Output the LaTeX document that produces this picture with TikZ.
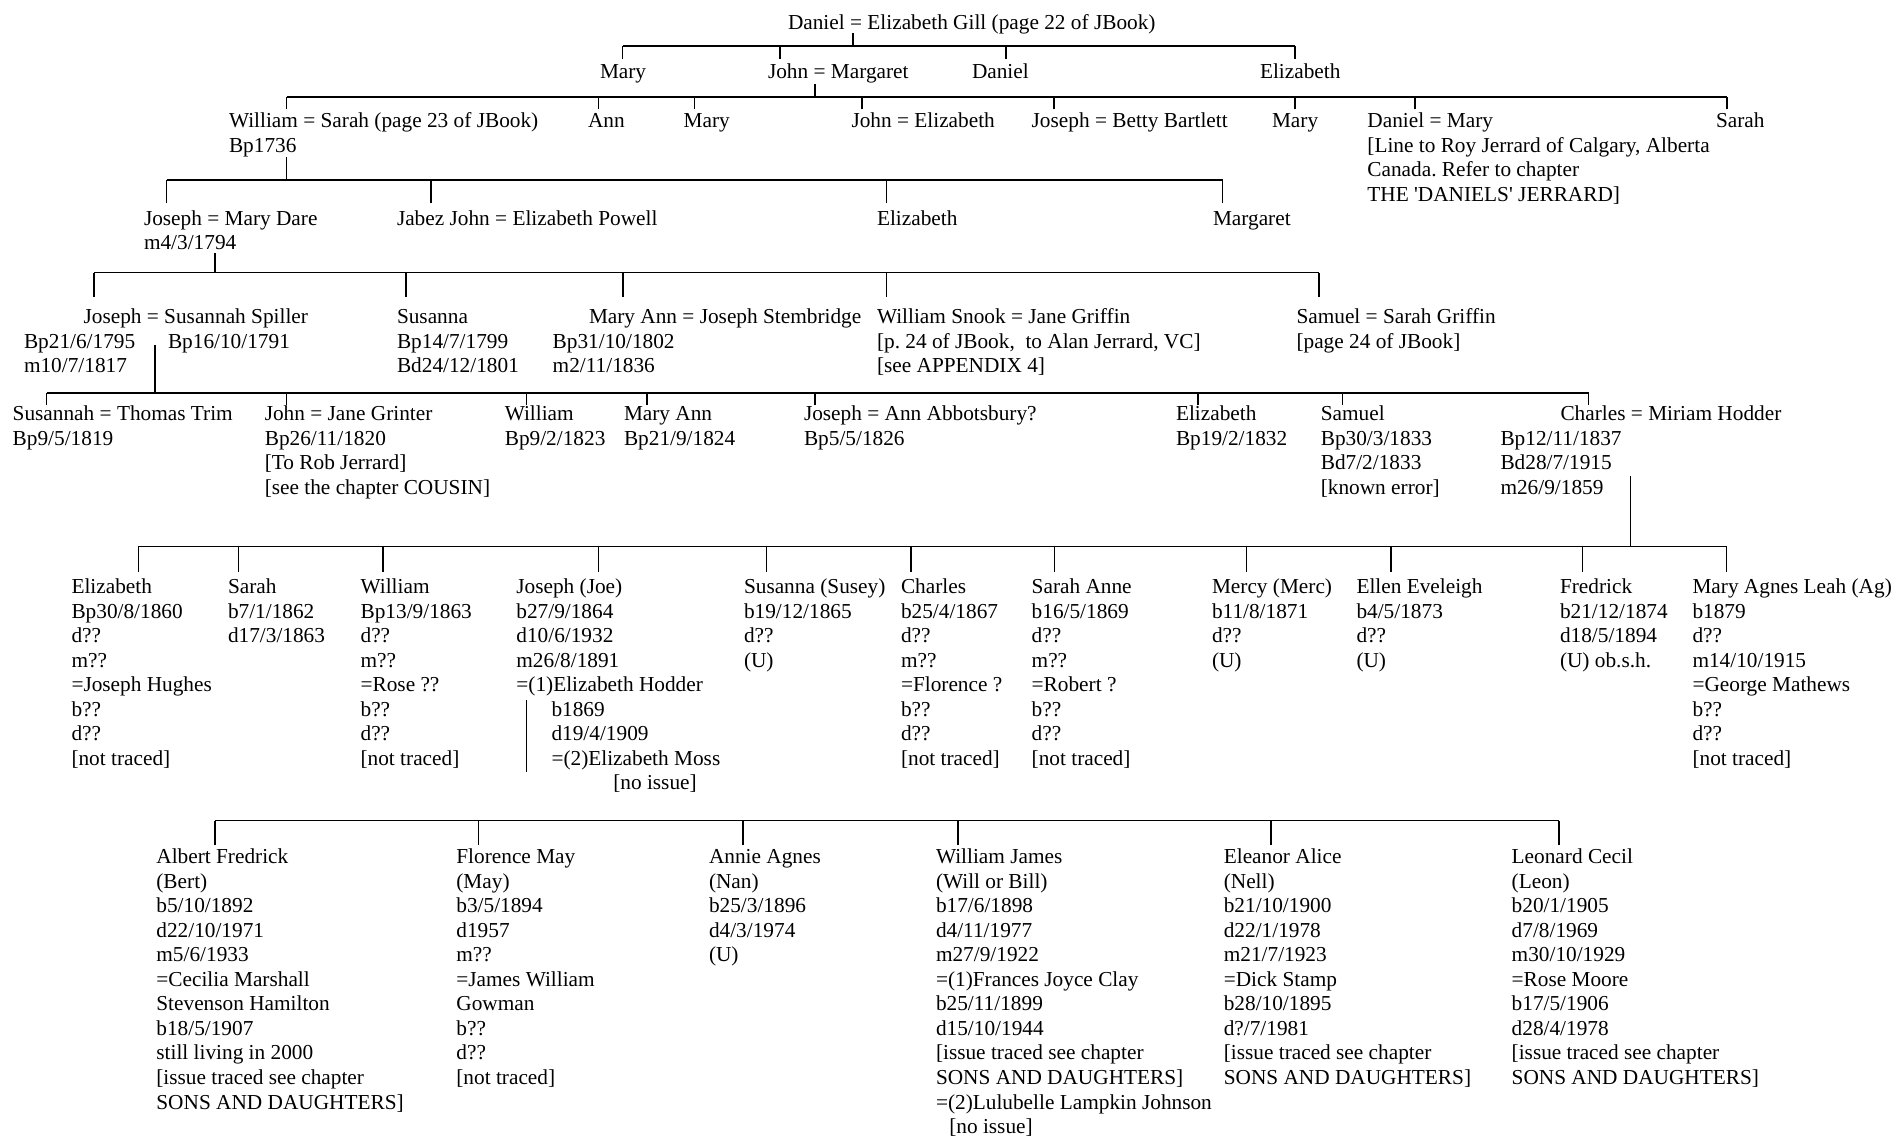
\documentclass[tikz,border=0pt]{standalone}
\usepackage{fontspec}
\setmainfont{Liberation Serif}
\frenchspacing
\newcommand\fsz{\fontsize{21.3}{24.56}\selectfont}
\newcommand\plines[1]{\begin{tabular}[t]{@{}l@{}}#1\end{tabular}}
\tikzset{
  person/.style={anchor=base west, inner sep=0pt, outer sep=0pt, font=\fsz},
  bus/.style={line width=1.3pt},
  thickbus/.style={line width=2pt},
  drop/.style={line width=1.1pt},
}
\begin{document}
\begin{tikzpicture}[x=1pt,y=-1pt]
\useasboundingbox (0,0) rectangle (1895,1136);
\def\lsk{24.56}
% ---------------- Row 0
\node[person] (root) at (788,29) {Daniel = Elizabeth Gill (page 22 of JBook)};
% ---------------- Bracket 1
\coordinate (s1) at (853,33);
\coordinate (k1) at (853,46);
\coordinate (c1a) at (622.5,58.5);
\coordinate (c1b) at (780,58.5);
\coordinate (c1c) at (1006,58.5);
\coordinate (c1d) at (1295,58.5);
\draw[drop] (s1) -- (k1);
\draw[bus] (c1a |- k1) -- (c1d |- k1);
\foreach \c in {c1a,c1b,c1c,c1d} \draw[drop] (\c) -- (\c |- k1);
% ---------------- Row 1
\node[person] (mary1) at (600,78) {Mary};
\node[person] (johnM) at (768,78) {John = Margaret};
\node[person] (daniel1) at (972,78) {Daniel};
\node[person] (eliz1) at (1260,78) {Elizabeth};
% ---------------- Bracket 2
\coordinate (s2) at (815,84);
\coordinate (k2) at (815,97);
\coordinate (c2a) at (286.7,109.3);
\coordinate (c2b) at (598.3,109.3);
\coordinate (c2c) at (694.3,109.3);
\coordinate (c2d) at (862,109.3);
\coordinate (c2e) at (1054,109.3);
\coordinate (c2f) at (1295,109.3);
\coordinate (c2g) at (1415,109.3);
\coordinate (c2h) at (1727,109.3);
\draw[drop] (s2) -- (k2);
\draw[thickbus] (c2a |- k2) -- (c2h |- k2);
\foreach \c in {c2a,c2b,c2c,c2d,c2e,c2f,c2g,c2h} \draw[drop] (\c) -- (\c |- k2);
% ---------------- Row 2
\node[person] (williamS) at (229,127.5) {\plines{William = Sarah (page 23 of JBook)\\Bp1736}};
\node[person] (ann2) at (588,127.5) {Ann};
\node[person] (mary2) at (683.6,127.5) {Mary};
\node[person] (johnE) at (851.5,127.5) {John = Elizabeth};
\node[person] (josephB) at (1031.7,127.5) {Joseph = Betty Bartlett};
\node[person] (mary3) at (1272,127.5) {Mary};
\node[person] (danielM) at (1367.4,127.5) {\plines{Daniel = Mary\\{[}Line to Roy Jerrard of Calgary, Alberta\\Canada. Refer to chapter\\THE \textquotesingle DANIELS\textquotesingle\ JERRARD]}};
\node[person] (sarah2) at (1716,127.5) {Sarah};
% ---------------- Bracket 3
\coordinate (s3) at (286.7,157);
\coordinate (k3) at (286.7,180);
\coordinate (c3a) at (166.7,203);
\coordinate (c3b) at (431,203);
\coordinate (c3c) at (886.7,203);
\coordinate (c3d) at (1222.6,203);
\draw[drop] (s3) -- (k3);
\draw[bus] (c3a |- k3) -- (c3d |- k3);
\foreach \c in {c3a,c3b,c3c,c3d} \draw[drop] (\c) -- (\c |- k3);
% ---------------- Row 3
\node[person] (josephMD) at (144,225) {\plines{Joseph = Mary Dare\\m4/3/1794}};
\node[person] (jabez) at (397,225) {Jabez John = Elizabeth Powell};
\node[person] (eliz3) at (877,225) {Elizabeth};
\node[person] (margaret) at (1213,225) {Margaret};
% ---------------- Bracket 4
\coordinate (s4) at (215,253);
\coordinate (k4) at (215,272.7);
\coordinate (c4a) at (94,296.7);
\coordinate (c4b) at (406,296.7);
\coordinate (c4c) at (623,296.7);
\coordinate (c4d) at (886.7,296.7);
\coordinate (c4e) at (1319,296.7);
\draw[drop] (s4) -- (k4);
\draw[bus] (c4a |- k4) -- (c4e |- k4);
\foreach \c in {c4a,c4b,c4c,c4d,c4e} \draw[drop] (\c) -- (\c |- k4);
% ---------------- Row 4
\node[person] (josephSS) at (83.6,323.5) {Joseph = Susannah Spiller};
\node[person] (josephSSd) at (24,323.5+\lsk) {\plines{Bp21/6/1795\\m10/7/1817}};
\node[person] (susannahSd) at (168,323.5+\lsk) {Bp16/10/1791};
\node[person] (susanna4) at (397,323.5) {\plines{Susanna\\Bp14/7/1799\\Bd24/12/1801}};
\node[person] (maryAnnJS) at (589,323.5) {Mary Ann = Joseph Stembridge};
\node[person] (maryAnnJSd) at (552.7,323.5+\lsk) {\plines{Bp31/10/1802\\m2/11/1836}};
\node[person] (williamSnook) at (877,323.5) {\plines{William Snook = Jane Griffin\\{[}p. 24 of JBook,\ \ to Alan Jerrard, VC]\\{[}see APPENDIX 4]}};
\node[person] (samuelSG) at (1296.5,323.5) {\plines{Samuel = Sarah Griffin\\{[}page 24 of JBook]}};
% ---------------- Bracket 5
\coordinate (s5) at (155,345);
\coordinate (k5) at (155,393);
\coordinate (c5a) at (46.7,405);
\coordinate (c5b) at (286.7,405);
\coordinate (c5c) at (526.7,405);
\coordinate (c5d) at (647,405);
\coordinate (c5e) at (815,405);
\coordinate (c5f) at (1198,405);
\coordinate (c5g) at (1342.6,405);
\coordinate (c5h) at (1588.6,405);
\draw[drop] (s5) -- (k5);
\draw[bus] (c5a |- k5) -- (c5h |- k5);
\foreach \c in {c5a,c5b,c5c,c5d,c5e,c5f,c5g,c5h} \draw[drop] (\c) -- (\c |- k5);
% ---------------- Row 5
\node[person] (susannahTT) at (12.7,420.5) {\plines{Susannah = Thomas Trim\\Bp9/5/1819}};
\node[person] (johnJG) at (264.8,420.5) {\plines{John = Jane Grinter\\Bp26/11/1820\\{[}To Rob Jerrard]\\{[}see the chapter COUSIN]}};
\node[person] (william5) at (504.8,420.5) {\plines{William\\Bp9/2/1823}};
\node[person] (maryAnn5) at (624,420.5) {\plines{Mary Ann\\Bp21/9/1824}};
\node[person] (josephAA) at (804,420.5) {\plines{Joseph = Ann Abbotsbury?\\Bp5/5/1826}};
\node[person] (eliz5) at (1176,420.5) {\plines{Elizabeth\\Bp19/2/1832}};
\node[person] (samuel5) at (1320.8,420.5) {\plines{Samuel\\Bp30/3/1833\\Bd7/2/1833\\{[}known error]}};
\node[person] (charlesMH) at (1560.5,420.5) {Charles = Miriam Hodder};
\node[person] (charlesMHd) at (1500.5,420.5+\lsk) {\plines{Bp12/11/1837\\Bd28/7/1915\\m26/9/1859}};
% ---------------- Bracket 6
\coordinate (s6) at (1630.7,476);
\coordinate (k6) at (1630.7,546.7);
\coordinate (c6a) at (138.2,572);
\coordinate (c6b) at (238.8,572);
\coordinate (c6c) at (383,572);
\coordinate (c6d) at (598.8,572);
\coordinate (c6e) at (766.7,572);
\coordinate (c6f) at (911,572);
\coordinate (c6g) at (1054.7,572);
\coordinate (c6h) at (1246.8,572);
\coordinate (c6i) at (1391,572);
\coordinate (c6j) at (1582.6,572);
\coordinate (c6k) at (1726.5,572);
\draw[drop] (s6) -- (k6);
\draw[bus] (c6a |- k6) -- (c6k |- k6);
\foreach \c in {c6a,c6b,c6c,c6d,c6e,c6f,c6g,c6h,c6i,c6j,c6k} \draw[drop] (\c) -- (\c |- k6);
% ---------------- Row 6
\node[person] (eliz6) at (71.5,593.5) {\plines{Elizabeth\\Bp30/8/1860\\d??\\m??\\=Joseph Hughes\\b??\\d??\\{[}not traced]}};
\node[person] (sarah6) at (228,593.5) {\plines{Sarah\\b7/1/1862\\d17/3/1863}};
\node[person] (william6) at (360.6,593.5) {\plines{William\\Bp13/9/1863\\d??\\m??\\=Rose ??\\b??\\d??\\{[}not traced]}};
\node[person] (josephJoe) at (516.4,593.5) {\plines{Joseph (Joe)\\b27/9/1864\\d10/6/1932\\m26/8/1891\\=(1)Elizabeth Hodder}};
\node[person] (josephJoeW) at (551.5,593.5+5*\lsk) {\plines{b1869\\d19/4/1909\\=(2)Elizabeth Moss}};
\node[person] (josephJoeN) at (613.3,593.5+8*\lsk) {[no issue]};
\coordinate (jv1) at (526.7,700);
\coordinate (jv2) at (526.7,771.7);
\draw[drop] (jv1) -- (jv2);
\node[person] (susanna6) at (744,593.5) {\plines{Susanna (Susey)\\b19/12/1865\\d??\\(U)}};
\node[person] (charles6) at (901,593.5) {\plines{Charles\\b25/4/1867\\d??\\m??\\=Florence ?\\b??\\d??\\{[}not traced]}};
\node[person] (sarahAnne) at (1031.7,593.5) {\plines{Sarah Anne\\b16/5/1869\\d??\\m??\\=Robert ?\\b??\\d??\\{[}not traced]}};
\node[person] (mercy) at (1212,593.5) {\plines{Mercy (Merc)\\b11/8/1871\\d??\\(U)}};
\node[person] (ellen) at (1356.5,593.5) {\plines{Ellen Eveleigh\\b4/5/1873\\d??\\(U)}};
\node[person] (fredrick) at (1560,593.5) {\plines{Fredrick\\b21/12/1874\\d18/5/1894\\(U) ob.s.h.}};
\node[person] (maryAgnes) at (1692.5,593.5) {\plines{Mary Agnes Leah (Ag)\\b1879\\d??\\m14/10/1915\\=George Mathews\\b??\\d??\\{[}not traced]}};
% ---------------- Bracket 7
\coordinate (k7) at (215,820.7);
\coordinate (c7a) at (215,845);
\coordinate (c7b) at (478.8,845);
\coordinate (c7c) at (743,845);
\coordinate (c7d) at (958,845);
\coordinate (c7e) at (1271,845);
\coordinate (c7f) at (1559,845);
\draw[bus] (c7a |- k7) -- (c7f |- k7);
\foreach \c in {c7a,c7b,c7c,c7d,c7e,c7f} \draw[drop] (\c) -- (\c |- k7);
% ---------------- Row 7
\node[person] (albert) at (156.4,863.5) {\plines{Albert Fredrick\\(Bert)\\b5/10/1892\\d22/10/1971\\m5/6/1933\\=Cecilia Marshall\\Stevenson Hamilton\\b18/5/1907\\still living in 2000\\{[}issue traced see chapter\\SONS AND DAUGHTERS]}};
\node[person] (florence) at (456.4,863.5) {\plines{Florence May\\(May)\\b3/5/1894\\d1957\\m??\\=James William\\Gowman\\b??\\d??\\{[}not traced]}};
\node[person] (annie) at (709,863.5) {\plines{Annie Agnes\\(Nan)\\b25/3/1896\\d4/3/1974\\(U)}};
\node[person] (williamJ) at (936,863.5) {\plines{William James\\(Will or Bill)\\b17/6/1898\\d4/11/1977\\m27/9/1922\\=(1)Frances Joyce Clay\\b25/11/1899\\d15/10/1944\\{[}issue traced see chapter\\SONS AND DAUGHTERS]\\=(2)Lulubelle Lampkin Johnson}};
\node[person] (williamJN) at (949.3,863.5+11*\lsk) {[no issue]};
\node[person] (eleanor) at (1223.8,863.5) {\plines{Eleanor Alice\\(Nell)\\b21/10/1900\\d22/1/1978\\m21/7/1923\\=Dick Stamp\\b28/10/1895\\d?/7/1981\\{[}issue traced see chapter\\SONS AND DAUGHTERS]}};
\node[person] (leonard) at (1511.7,863.5) {\plines{Leonard Cecil\\(Leon)\\b20/1/1905\\d7/8/1969\\m30/10/1929\\=Rose Moore\\b17/5/1906\\d28/4/1978\\{[}issue traced see chapter\\SONS AND DAUGHTERS]}};
\end{tikzpicture}
\end{document}
